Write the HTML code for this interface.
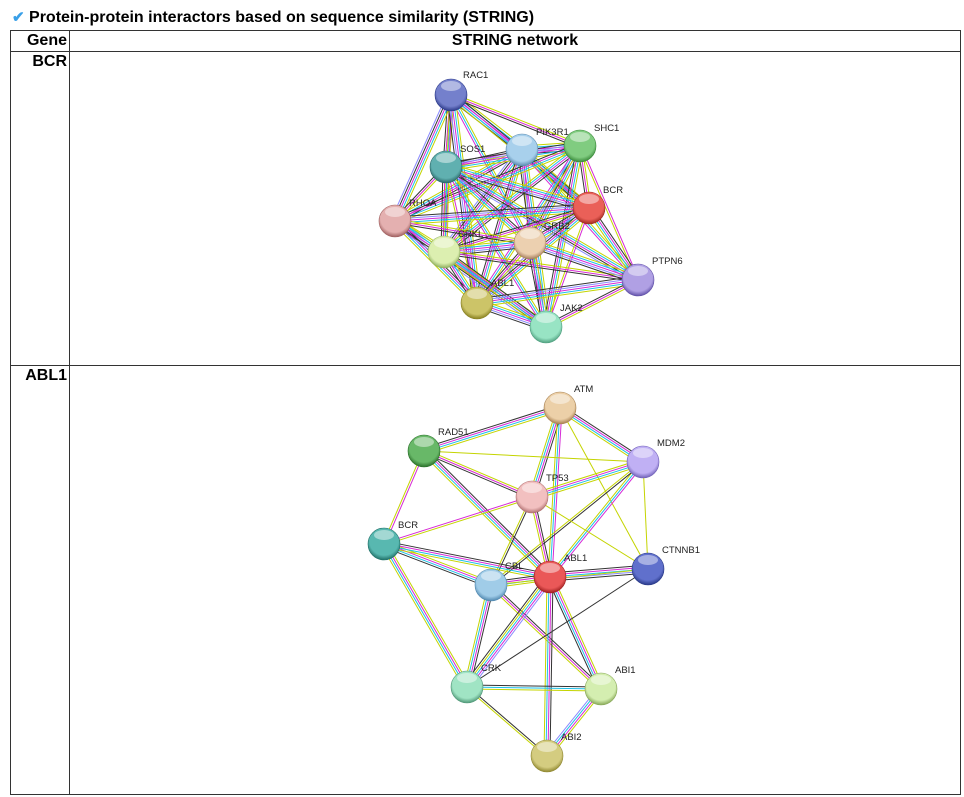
<!DOCTYPE html>
<html><head><meta charset="utf-8">
<style>
body{margin:0;background:#fff;font-family:"Liberation Sans",sans-serif;}
#t{position:absolute;left:12px;top:8px;font-size:16px;font-weight:bold;color:#000;}
#t span{color:#3aa0e8;font-size:15px;}
table{position:absolute;left:10px;top:30px;border-collapse:collapse;}
td{border:1px solid #333;vertical-align:top;font-weight:bold;font-size:16px;padding:0;}
svg{position:absolute;left:0;top:0;}
</style></head><body>
<div id="t"><span>✔</span> Protein-protein interactors based on sequence similarity (STRING)</div>
<table>
<tr style="height:21px"><td style="width:56px;text-align:right;padding-right:2px;height:20px;line-height:20px">Gene</td><td style="width:890px;text-align:center;line-height:20px">STRING network</td></tr>
<tr style="height:314px"><td style="text-align:right;padding-right:2px;line-height:20px">BCR</td><td></td></tr>
<tr style="height:429px"><td style="text-align:right;padding-right:2px;line-height:20px">ABL1</td><td></td></tr>
</table>
<svg id="s" width="964" height="797" xmlns="http://www.w3.org/2000/svg"></svg>
<script>
var C={y:"#c4d400",c:"#1cc0e8",m:"#d62ad6",k:"#333",b:"#8a8aff"};
var svg=document.getElementById('s'),out="";
var defs="<defs>";
function net(nodes,edges){
 edges.forEach(function(e){
  var a=nodes[e[0]],b=nodes[e[1]],cs=e[2];
  var dx=b[1]-a[1],dy=b[2]-a[2],L=Math.hypot(dx,dy),px=-dy/L,py=dx/L;
  for(var i=0;i<cs.length;i++){var o=(i-(cs.length-1)/2)*2;
   out+='<line x1="'+(a[1]+px*o)+'" y1="'+(a[2]+py*o)+'" x2="'+(b[1]+px*o)+'" y2="'+(b[2]+py*o)+'" stroke="'+C[cs[i]]+'" stroke-width="1"/>';}
 });
 for(var k in nodes){var n=nodes[k];var id='g'+Math.random().toString(36).slice(2);
  defs+='<radialGradient id="'+id+'" cx="50%" cy="40%" r="60%"><stop offset="0" stop-color="'+n[3]+'"/><stop offset="0.75" stop-color="'+n[3]+'"/><stop offset="1" stop-color="'+n[4]+'"/></radialGradient>';
  out+='<circle cx="'+n[1]+'" cy="'+n[2]+'" r="16" fill="url(#'+id+')" stroke="'+n[4]+'" stroke-width="0.6"/>';
  out+='<ellipse cx="'+n[1]+'" cy="'+(n[2]-9)+'" rx="10" ry="5" fill="#fff" opacity="0.45"/>';
  out+='<text x="'+(n[1]+(n[5]||12))+'" y="'+(n[2]+(n[6]||-17))+'" font-size="9.5" fill="#222" font-family="Liberation Sans,sans-serif">'+n[0]+'</text>';}
}
var n1={RAC1:["RAC1",451,95,"#7480cc","#2c3a8a"],PIK3R1:["PIK3R1",522,150,"#a8d0ec","#5a8ab0",14,-15],SHC1:["SHC1",580,146,"#80cc80","#3a8a3a",14,-15],
SOS1:["SOS1",446,167,"#60b0b0","#2a6a6a",14,-15],BCR:["BCR",589,208,"#ea6058","#a02a20",14,-15],RHOA:["RHOA",395,221,"#e4b0b0","#a06060",14,-15],
CRKL:["CRKL",444,252,"#dcefb0","#90b060",14,-15],GRB2:["GRB2",530,243,"#ecd0b0","#a88060",14,-14],PTPN6:["PTPN6",638,280,"#b0a0e4","#6050a8",14,-16],
ABL1:["ABL1",477,303,"#ccc468","#888020",14,-17],JAK2:["JAK2",546,327,"#98e4c4","#50a080",14,-16]};
var e1=[],keys=Object.keys(n1),pats=["ycmk","ycmkb","ymk","ycm","kmcy","ycmbk","my","ycmk"];
for(var i=0;i<keys.length;i++)for(var j=i+1;j<keys.length;j++){
 var a=n1[keys[i]],b=n1[keys[j]];if(Math.hypot(a[1]-b[1],a[2]-b[2])>235)continue;
 if((keys[i]=="RAC1"&&(keys[j]=="PTPN6"||keys[j]=="JAK2"))||(keys[i]=="RHOA"&&keys[j]=="PTPN6"))continue;
 e1.push([keys[i],keys[j],pats[(i*3+j*5)%pats.length]]);}
net(n1,e1);
var n2={ATM:["ATM",560,408,"#ecd0a8","#a88050",14,-16],RAD51:["RAD51",424,451,"#68b868","#2a702a",14,-16],MDM2:["MDM2",643,462,"#c0b0f4","#7060b8",14,-16],
TP53:["TP53",532,497,"#f2c0c0","#b07070",14,-16],BCR:["BCR",384,544,"#58b8b0","#207068",14,-16],CTNNB1:["CTNNB1",648,569,"#6070cc","#283888",14,-16],
CBL:["CBL",491,585,"#a0cce8","#5088b0",14,-16],ABL1:["ABL1",550,577,"#ea5858","#a02020",14,-16],CRK:["CRK",467,687,"#a0e4c4","#509878",14,-16],
ABI1:["ABI1",601,689,"#d4eeb0","#88a858",14,-16],ABI2:["ABI2",547,756,"#d4cc80","#908830",14,-16]};
var e2=[["ATM","RAD51","ycmk"],["ATM","MDM2","kmcy"],["ATM","TP53","kmcy"],["ATM","ABL1","mcy"],["ATM","CTNNB1","y"],["RAD51","MDM2","y"],["RAD51","TP53","ymk"],
["RAD51","ABL1","kmcy"],["RAD51","BCR","my"],["MDM2","TP53","ycmy"],["MDM2","ABL1","mcy"],["MDM2","CBL","ky"],["MDM2","CTNNB1","y"],["TP53","BCR","ym"],
["TP53","ABL1","kmy"],["TP53","CBL","ky"],["TP53","CTNNB1","y"],["BCR","CBL","ymck"],["BCR","ABL1","kmcy"],["BCR","CRK","ymcy"],["CBL","ABL1","kmcy"],
["CBL","CRK","kmcy"],["CBL","ABI1","kmy"],["ABL1","CTNNB1","kmcbk"],["ABL1","CRK","bmcyk"],["ABL1","ABI1","ymck"],["ABL1","ABI2","kmcy"],["CTNNB1","CRK","k"],
["CTNNB1","CBL","y"],["CRK","ABI1","kcy"],["CRK","ABI2","ky"],["ABI1","ABI2","ymcb"]];
net(n2,e2);
svg.innerHTML=defs+"</defs>"+out;
</script>
</body></html>
